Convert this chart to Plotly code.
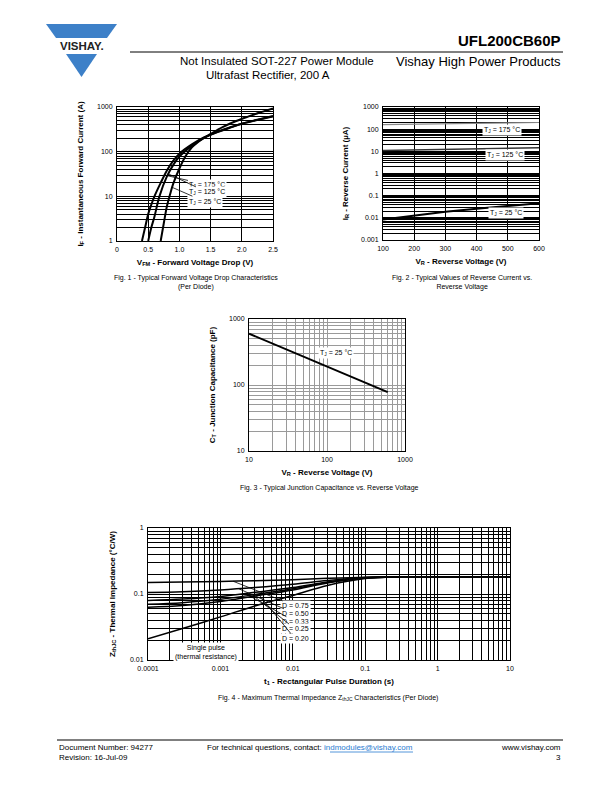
import numpy as np
import plotly.graph_objects as go

OFF = 8                      # page body margin of the browser
W, H = 612 - OFF, 792 - OFF  # figure size so that it fills the window exactly
F = "Liberation Sans"

# ---------------- DATA ----------------
# Fig 1 - forward characteristics (V, A)
vf_175 = [0.40, 0.45, 0.50, 0.55, 0.60, 0.70, 0.80, 0.90, 1.00, 1.20, 1.40, 1.60, 1.80, 2.00, 2.25, 2.50]
if_175 = [1, 2, 4, 6.5, 10, 20, 38, 62, 90, 145, 210, 270, 340, 420, 510, 610]
vf_125 = [0.50, 0.55, 0.60, 0.68, 0.80, 0.90, 1.00, 1.20, 1.40, 1.60, 1.80, 2.00, 2.25, 2.50]
if_125 = [1, 2, 3.5, 10, 28, 50, 78, 135, 205, 275, 345, 425, 520, 630]
vf_25 = [0.70, 0.75, 0.80, 0.85, 0.90, 1.00, 1.10, 1.20, 1.30, 1.40, 1.50, 1.70, 1.90, 2.10, 2.30, 2.50]
if_25 = [1, 2.5, 6, 11, 19, 42, 80, 125, 165, 205, 250, 360, 480, 610, 760, 930]

# Fig 2 - reverse current (V, uA)
vr2 = [100, 200, 300, 400, 500, 600]
ir_175 = [160, 168, 176, 184, 192, 200]
ir_125 = [11, 11.8, 12.5, 13.2, 13.8, 14.5]
ir_25 = [0.0085, 0.013, 0.019, 0.026, 0.035, 0.045]

# Fig 3 - junction capacitance (V, pF)
vr3 = [10, 20, 50, 100, 200, 400, 600]
ct = [600, 424, 268, 190, 134, 95, 78]

# Fig 4 - thermal impedance (s, degC/W)
t4 = [0.0001, 0.0003, 0.001, 0.003, 0.01, 0.03, 0.1, 0.3, 1, 10]
z_075 = [0.150, 0.152, 0.155, 0.159, 0.165, 0.173, 0.180, 0.182, 0.182, 0.182]
z_050 = [0.105, 0.108, 0.115, 0.125, 0.140, 0.160, 0.178, 0.182, 0.182, 0.182]
z_033 = [0.080, 0.084, 0.092, 0.106, 0.125, 0.152, 0.176, 0.182, 0.182, 0.182]
z_025 = [0.070, 0.074, 0.083, 0.098, 0.120, 0.150, 0.175, 0.182, 0.182, 0.182]
z_020 = [0.063, 0.067, 0.077, 0.093, 0.115, 0.147, 0.174, 0.182, 0.182, 0.182]
z_sp = [0.021, 0.030, 0.045, 0.066, 0.095, 0.135, 0.172, 0.182, 0.182, 0.182]
d_labels = ["D = 0.75", "D = 0.50", "D = 0.33", "D = 0.25", "D = 0.20"]

# ---------------- helpers ----------------
def px(x):
    return (x - OFF) / W

def py(y):
    return 1 - (y - OFF) / H

def minors(lo, hi):
    return [m * 10.0 ** e for e in range(lo, hi) for m in range(2, 10)]

common = dict(showline=True, linecolor="black", linewidth=1, mirror=True, ticks="",
              zeroline=False, tickfont=dict(family=F, size=7, color="black"),
              showgrid=True, gridcolor="black", gridwidth=1, fixedrange=True,
              automargin=False, ticklabelstandoff=2)

def ttl(text, standoff):
    return dict(text="<b>" + text + "</b>", font=dict(family=F, size=8, color="black"), standoff=standoff)

fig = go.Figure()

def line(x, y, ax, width=2, color="black", shape="spline"):
    fig.add_trace(go.Scatter(x=x, y=y, xaxis="x" + ax, yaxis="y" + ax, mode="lines",
                             line=dict(color=color, width=width, shape=shape),
                             showlegend=False, hoverinfo="skip"))

# Fig 1
line(vf_175, if_175, "", 2)
line(vf_125, if_125, "", 2)
line(vf_25, if_25, "", 2)
# Fig 2
line(vr2, ir_175, "2", 1.2, "#888888", "linear")
line(vr2, ir_125, "2", 1.5, "#333333", "linear")
line(vr2, ir_25, "2", 2, "black", "linear")
# Fig 3
line(vr3, ct, "3", 2, "black", "linear")
# Fig 4
for z in [z_075, z_050, z_033, z_025, z_020, z_sp]:
    line(t4, z, "4", 1.5)

layout = dict(width=W, height=H, margin=dict(l=0, r=0, t=0, b=0, autoexpand=False),
              paper_bgcolor="white", plot_bgcolor="white",
              font=dict(family=F, color="black"), showlegend=False)

layout["xaxis"] = dict(common, domain=[px(117), px(273)], anchor="y", range=[0, 2.5],
                       tickvals=[0, 0.5, 1.0, 1.5, 2.0, 2.5],
                       ticktext=["0", "0.5", "1.0", "1.5", "2.0", "2.5"],
                       title=ttl("V<sub>FM</sub> - Forward Voltage Drop (V)", 6))
layout["yaxis"] = dict(common, domain=[py(241), py(107)], anchor="x", type="log", range=[0, 3],
                       tickvals=[1, 10, 100, 1000], ticktext=["1", "10", "100", "1000"],
                       minor=dict(tickvals=minors(0, 3), showgrid=True, gridcolor="black", gridwidth=1, ticks=""),
                       title=ttl("I<sub>F</sub> - Instantaneous Forward Current (A)", 12))

layout["xaxis2"] = dict(common, domain=[px(383), px(539)], anchor="y2", range=[100, 600],
                        tickvals=[100, 200, 300, 400, 500, 600],
                        title=ttl("V<sub>R</sub> - Reverse Voltage (V)", 6))
layout["yaxis2"] = dict(common, domain=[py(240), py(107)], anchor="x2", type="log", range=[-3, 3],
                        tickvals=[0.001, 0.01, 0.1, 1, 10, 100, 1000],
                        ticktext=["0.001", "0.01", "0.1", "1", "10", "100", "1000"],
                        gridwidth=1.2,
                        minor=dict(tickvals=minors(-3, 3), showgrid=True, gridcolor="black", gridwidth=1.2, ticks=""),
                        title=ttl("I<sub>R</sub> - Reverse Current (µA)", 11))

g3 = "#9a9a9a"
layout["xaxis3"] = dict(common, domain=[px(249), px(405)], anchor="y3", type="log", range=[1, 3],
                        tickvals=[10, 100, 1000], ticktext=["10", "100", "1000"], gridcolor=g3,
                        minor=dict(tickvals=minors(1, 3), showgrid=True, gridcolor=g3, gridwidth=1, ticks=""),
                        title=ttl("V<sub>R</sub> - Reverse Voltage (V)", 6))
layout["yaxis3"] = dict(common, domain=[py(451), py(319)], anchor="x3", type="log", range=[1, 3],
                        tickvals=[10, 100, 1000], ticktext=["10", "100", "1000"], gridcolor=g3,
                        minor=dict(tickvals=minors(1, 3), showgrid=True, gridcolor=g3, gridwidth=1, ticks=""),
                        title=ttl("C<sub>T</sub> - Junction Capacitance (pF)", 12))

layout["xaxis4"] = dict(common, domain=[px(148), px(510)], anchor="y4", type="log", range=[-4, 1],
                        tickvals=[0.0001, 0.001, 0.01, 0.1, 1, 10],
                        ticktext=["0.0001", "0.001", "0.01", "0.1", "1", "10"],
                        minor=dict(tickvals=minors(-4, 1), showgrid=True, gridcolor="black", gridwidth=1.2, ticks=""),
                        title=ttl("t<sub>1</sub> - Rectangular Pulse Duration (s)", 6))
layout["yaxis4"] = dict(common, domain=[py(660), py(528)], anchor="x4", type="log", range=[-2, 0],
                        tickvals=[0.01, 0.1, 1], ticktext=["0.01", "0.1", "1"],
                        minor=dict(tickvals=minors(-2, 0), showgrid=True, gridcolor="black", gridwidth=1, ticks=""),
                        title=ttl("Z<sub>thJC</sub> - Thermal Impedance (°C/W)", 13))

ann = []

def lab(text, xa, ya, x, y, tx, ty, arrow=True, size=7):
    d = dict(text=text, xref="x" + xa, yref="y" + ya, font=dict(family=F, size=size, color="black"),
             bgcolor="white", borderpad=1)
    if arrow:
        d.update(x=x, y=y, ax=tx, ay=ty, axref="x" + xa, ayref="y" + ya, showarrow=True,
                 arrowhead=0, arrowwidth=0.8, arrowcolor="black", standoff=0)
    else:
        d.update(x=tx, y=ty, showarrow=False)
    ann.append(d)

# Fig 1 labels (y in log10 for log axes)
lab("T<sub>J</sub> = 175 °C", "", "", 0.76, np.log10(30), 1.45, np.log10(18))
lab("T<sub>J</sub> = 125 °C", "", "", 0.82, np.log10(32), 1.45, np.log10(12.3))
lab("T<sub>J</sub> = 25 °C", "", "", 0.88, np.log10(16), 1.41, np.log10(7.6))
# Fig 2
lab("T<sub>J</sub> = 175 °C", "2", "2", 0, 0, 481, np.log10(95), arrow=False)
lab("T<sub>J</sub> = 125 °C", "2", "2", 0, 0, 491, np.log10(6.9), arrow=False)
lab("T<sub>J</sub> = 25 °C", "2", "2", 0, 0, 494, np.log10(0.017), arrow=False)
# Fig 3
lab("T<sub>J</sub> = 25 °C", "3", "3", 0, 0, np.log10(130), np.log10(305), arrow=False)
# Fig 4
targets = [(0.0015, 0.156), (0.0018, 0.120), (0.0022, 0.102), (0.0028, 0.096), (0.0035, 0.094)]
ylab = [-1.18, -1.30, -1.42, -1.53, -1.68]
for i, txt in enumerate(d_labels):
    lab(txt, "4", "4", np.log10(targets[i][0]), np.log10(targets[i][1]), np.log10(0.0108), ylab[i])
lab("Single pulse<br>(thermal resistance)", "4", "4", 0, 0, np.log10(0.00063), np.log10(0.0132), arrow=False)

def ptxt(text, x, y, size=8, xanchor="center", bold=False, color="black"):
    if bold:
        text = "<b>" + text + "</b>"
    ann.append(dict(text=text, x=px(x), y=py(y), xref="paper", yref="paper", showarrow=False,
                    xanchor=xanchor, yanchor="middle", font=dict(family=F, size=size, color=color)))

# header
ptxt("UFL200CB60P", 563, 41, 15, "right", True)
ptxt("Vishay High Power Products", 563, 62, 13, "right")
ptxt("Not Insulated SOT-227 Power Module", 376, 61, 11.5, "right")
ptxt("Ultrafast Rectifier, 200 A", 268, 75, 11.5)
ptxt("VISHAY.", 82, 46, 11.5, "center", True, "#222222")
# captions
ptxt("Fig. 1 - Typical Forward Voltage Drop Characteristics<br>(Per Diode)", 196, 282, 7)
ptxt("Fig. 2 - Typical Values of Reverse Current vs.<br>Reverse Voltage", 462, 282, 7)
ptxt("Fig. 3 - Typical Junction Capacitance vs. Reverse Voltage", 330, 488, 7)
ptxt("Fig. 4 - Maximum Thermal Impedance Z<sub>thJC</sub> Characteristics (Per Diode)", 328, 698, 7)
# footer
ptxt("Document Number: 94277", 57, 747, 8, "left")
ptxt("Revision: 16-Jul-09", 57, 757, 8, "left")
ptxt("For technical questions, contact: <span style='fill:#2a7bd0'>indmodules@vishay.com</span>",
     310, 747, 8)
ptxt("www.vishay.com", 563, 747, 8, "right")
ptxt("3", 563, 757, 8, "right")
layout["annotations"] = ann

blue = "#3d80c8"

def tri_path(pts):
    return "M " + " L ".join(f"{px(a):.5f},{py(b):.5f}" for a, b in pts) + " Z"

shapes = [
    dict(type="path", xref="paper", yref="paper", path=tri_path([(46, 24), (117, 24), (107, 38), (56, 38)]),
         fillcolor=blue, line=dict(width=0)),
    dict(type="path", xref="paper", yref="paper", path=tri_path([(66, 54), (97, 54), (81.5, 77)]),
         fillcolor=blue, line=dict(width=0)),
    dict(type="line", xref="paper", yref="paper", x0=px(130), x1=px(563), y0=py(52), y1=py(52),
         line=dict(color="black", width=1)),
    dict(type="line", xref="paper", yref="paper", x0=px(57), x1=px(563), y0=py(740), y1=py(740),
         line=dict(color="black", width=1)),
    dict(type="line", xref="paper", yref="paper", x0=px(330), x1=px(413), y0=py(752), y1=py(752),
         line=dict(color="#2a7bd0", width=0.8)),
]
layout["shapes"] = shapes

fig.update_layout(layout)
fig.write_html("out.html")
